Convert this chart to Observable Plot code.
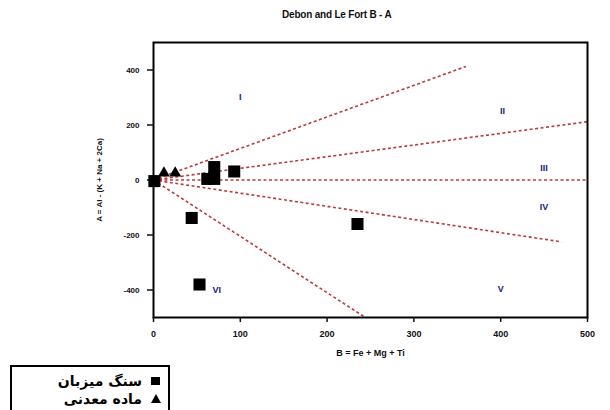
<!DOCTYPE html>
<html>
<head>
<meta charset="utf-8">
<script src="https://cdn.jsdelivr.net/npm/d3@7"></script>
<script src="https://cdn.jsdelivr.net/npm/@observablehq/plot@0.6"></script>
<style>
  body { margin: 0; background: #fff; font-family: "Liberation Sans", Arial, sans-serif; }
  #wrap { position: relative; width: 610px; height: 410px; overflow: hidden; }
  #title { height: 30px; position: relative; }
  #title span { position: absolute; left: 282px; top: 9px; font-size: 10px; font-weight: bold; color: #111; letter-spacing: -0.2px; }
  #legend { position: absolute; left: 10px; top: 365px; width: 156px; height: 60px; border: 2px solid #000; background: #fff; }
  .row { position: absolute; left: 0; width: 156px; height: 18px; }
  .row .t { position: absolute; right: 26px; top: 0; direction: rtl; font-family: "DejaVu Sans", sans-serif; font-weight: bold; font-size: 14px; line-height: 18px; color: #000; }
  .sq { position: absolute; right: 8px; top: 5px; width: 9px; height: 8px; background: #000; }
  .tri { position: absolute; right: 7px; top: 4px; width: 0; height: 0; border-left: 5px solid transparent; border-right: 5px solid transparent; border-bottom: 9px solid #000; }
</style>
</head>
<body>
<div id="wrap">
  <div id="title"><span></span></div>
  <div id="chart"></div>
  <div id="legend"></div>
</div>
<script>
const titleText = "Debon and Le Fort B - A";
const xLabel = "B = Fe + Mg + Ti";
const yLabel = "A = Al - (K + Na + 2Ca)";
const xTicks = [0, 100, 200, 300, 400, 500];
const yTicks = [-400, -200, 0, 200, 400];

// host rock (squares)
const hostX = [1, 44, 53, 62, 70, 70, 93, 235];
const hostY = [-4, -138, -380, 4, 4, 47, 31, -160];
// ore (triangles)
const oreX = [12, 25];
const oreY = [25, 25];
const seriesNames = ["سنگ میزبان", "ماده معدنی"];

// sector boundary lines from origin
const lineEndX = [360, 500, 500, 470, 244];
const lineEndY = [413, 212, 0, -225, -500];

// sector labels
const sectorNames = ["I", "II", "III", "IV", "V", "VI"];
const sectorX = [100, 402, 450, 450, 400, 73];
const sectorY = [302, 251, 44, -98, -396, -400];

document.querySelector("#title span").textContent = titleText;

const host = hostX.map((x, i) => ({x, y: hostY[i]}));
const ore = oreX.map((x, i) => ({x, y: oreY[i]}));
const lines = lineEndX.map((x, i) => ({x1: 0, y1: 0, x2: x, y2: lineEndY[i]}));
const sectors = sectorNames.map((n, i) => ({n, x: sectorX[i], y: sectorY[i]}));

const chart = Plot.plot({
  width: 610,
  height: 330,
  marginLeft: 153,
  marginRight: 23,
  marginTop: 12,
  marginBottom: 43,
  style: {fontFamily: "Liberation Sans, Arial, sans-serif", fontSize: "9px", fontWeight: "bold", color: "#111", background: "#fff", overflow: "visible"},
  x: {domain: [0, 500]},
  y: {domain: [-500, 500]},
  marks: [
    Plot.link(lines, {x1: "x1", y1: "y1", x2: "x2", y2: "y2", stroke: "#b01818", strokeWidth: 1.6, strokeDasharray: "3,2.5", strokeOpacity: 0.85}),
    Plot.frame({stroke: "#000", strokeWidth: 2}),
    Plot.axisX({ticks: xTicks, tickSize: 5, tickPadding: 8, tickFormat: d => String(d), label: xLabel, labelAnchor: "center", labelArrow: "none", labelOffset: 38, fontSize: 9, fontWeight: "bold", strokeWidth: 1.5}),
    Plot.axisY({ticks: yTicks, tickSize: 6, tickPadding: 8, tickFormat: d => String(d), label: yLabel, labelAnchor: "center", labelArrow: "none", labelOffset: 57, fontSize: 8, fontWeight: "bold", strokeWidth: 1.5}),
    Plot.dot(host, {x: "x", y: "y", symbol: "square", r: 6.8, fill: "#000", stroke: "none"}),
    Plot.dot(ore, {x: "x", y: "y", symbol: "triangle", r: 4.4, fill: "#000", stroke: "none"}),
    Plot.text(sectors, {x: "x", y: "y", text: "n", fill: "#1a237e", fontSize: 9, fontWeight: "bold"})
  ]
});
document.getElementById("chart").appendChild(chart);

const legend = document.getElementById("legend");
seriesNames.forEach((name, i) => {
  const row = document.createElement("div");
  row.className = "row";
  row.style.top = (5 + i * 18) + "px";
  const t = document.createElement("span");
  t.className = "t";
  t.textContent = name;
  const s = document.createElement("span");
  s.className = i === 0 ? "sq" : "tri";
  row.appendChild(t);
  row.appendChild(s);
  legend.appendChild(row);
});
</script>
</body>
</html>
